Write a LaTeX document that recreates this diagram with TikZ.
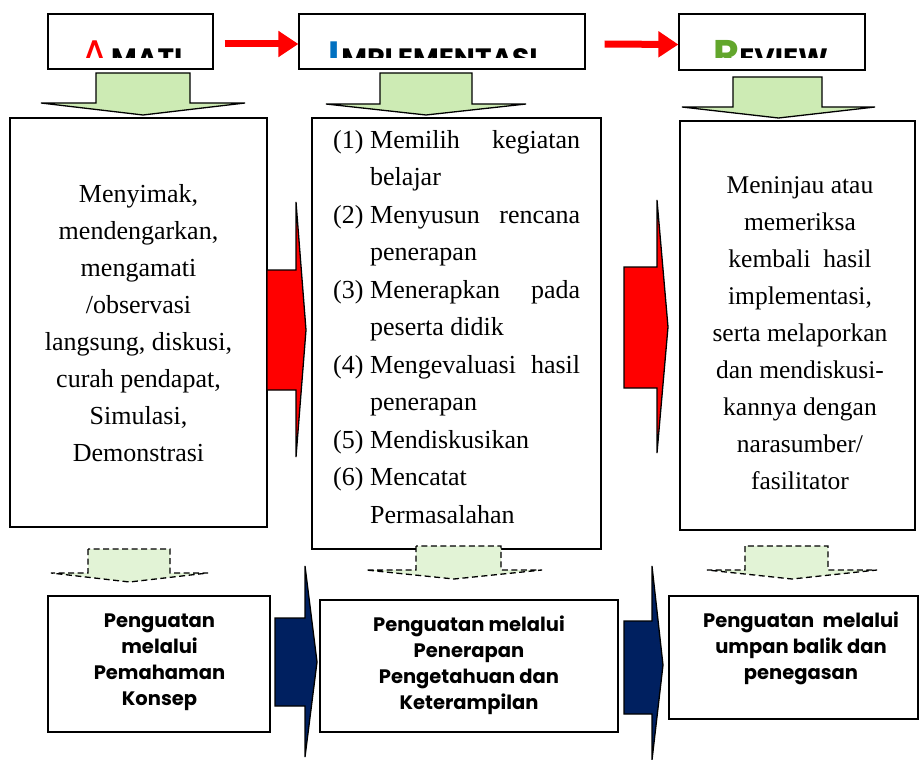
\documentclass[tikz,border=0pt]{standalone}
\usepackage{fontspec}
\setmainfont{Liberation Serif}
\newfontfamily\gothicfont{Poppins}
\usepackage{tikz}
\usetikzlibrary{arrows.meta}

\definecolor{lightgreen}{RGB}{205,235,180}
\definecolor{palegreen}{RGB}{226,243,214}
\definecolor{navyblue}{RGB}{0,32,96}
\definecolor{titleblue}{RGB}{0,112,192}
\definecolor{titlegreen}{RGB}{98,166,44}

% numbered line with hanging indent
\newcommand{\listitem}[2]{\hangindent=37pt\hangafter=1\noindent\makebox[37pt][l]{(#1)}#2\par}

\tikzset{
  titlebox/.style={draw, line width=1.2pt, inner sep=0pt},
  mainbox/.style={draw, line width=1.2pt, inner sep=0pt},
  titletext/.style={anchor=base west, inner sep=0pt, font=\gothicfont\bfseries\fontsize{28}{28}\selectfont},
  bodytext/.style={anchor=north, inner sep=0pt, align=center, font=\fontsize{26}{37}\selectfont},
  listtext/.style={anchor=north west, inner sep=0pt, text width=247pt, align=justify,
    font=\fontsize{26}{37.5}\selectfont},
  bottomtext/.style={anchor=north, inner sep=0pt, align=center, font=\gothicfont\bfseries\fontsize{19.5}{26}\selectfont},
  toparrow/.style={draw=red, line width=7pt, -{Triangle[length=20pt,width=25pt]}},
  greenarrow/.style={draw, line width=1.3pt, fill=lightgreen, line join=miter},
  dasharrow/.style={draw, line width=1.3pt, dash pattern=on 6pt off 3.5pt, fill=palegreen},
  redblock/.style={draw, line width=1.3pt, fill=red},
  navyblock/.style={draw, line width=1.3pt, fill=navyblue}
}

\begin{document}
\begin{tikzpicture}[x=1pt, y=-1pt]
\useasboundingbox (0,0) rectangle (919,760);

% title boxes
\node[titlebox, minimum width=165pt, minimum height=55pt] (amati) at (130.5,41.5) {};
\node[titlebox, minimum width=286pt, minimum height=55pt] (impl) at (442,41.5) {};
\node[titlebox, minimum width=186pt, minimum height=56pt] (review) at (772,42) {};

\begin{scope}
  \clip (48,14) rectangle (213,58);
  \node[titletext] (amatitxt) at (81,69) {\textcolor{red}{\mdseries\fontsize{40}{40}\selectfont A}\hspace{3pt}MATI};
\end{scope}
\begin{scope}
  \clip (299,14) rectangle (585,58);
  \node[titletext] (impltxt) at (328,69) {\textcolor{titleblue}{\fontsize{38}{38}\selectfont I}\hspace{2pt}MPLEMENTASI};
\end{scope}
\begin{scope}
  \clip (679,14) rectangle (865,58);
  \node[titletext] (reviewtxt) at (713,69) {\textcolor{titlegreen}{\fontsize{40}{40}\selectfont R}EVIEW};
\end{scope}

\draw[toparrow] ([xshift=11pt,yshift=-2.5pt]amati.east) -- ([yshift=-2.5pt]impl.west);
\draw[toparrow] ([xshift=19pt,yshift=-2.5pt]impl.east) -- ([yshift=-2.5pt]review.west);

% main boxes
\node[mainbox, minimum width=257pt, minimum height=409pt] (amatibox) at (138.5,322.5) {};
\node[mainbox, minimum width=289pt, minimum height=431pt] (implbox) at (456.5,333.5) {};
\node[mainbox, minimum width=235pt, minimum height=409pt] (reviewbox) at (797.5,325.5) {};

\node[bodytext] (amatibody) at (138.5,184) {Menyimak,\\mendengarkan,\\mengamati\\/observasi\\langsung, diskusi,\\curah pendapat,\\Simulasi,\\Demonstrasi};

\node[listtext] (implbody) at (333,130) {\hyphenpenalty=10000\tolerance=10000\relax
\listitem{1}{Memilih kegiatan\linebreak belajar}%
\listitem{2}{Menyusun rencana\linebreak penerapan}%
\listitem{3}{Menerapkan pada\linebreak peserta didik}%
\listitem{4}{Mengevaluasi hasil\linebreak penerapan}%
\listitem{5}{Mendiskusikan}%
\listitem{6}{Mencatat\newline Permasalahan}};

\node[bodytext, font=\fontsize{25.5}{37}\selectfont] (reviewbody) at (800,176) {Meninjau atau\\memeriksa\\kembali\ \ hasil\\implementasi,\\serta melaporkan\\dan mendiskusi-\\kannya dengan\\narasumber/\\fasilitator};

% bottom boxes
\node[mainbox, minimum width=222pt, minimum height=136pt] (amatinote) at (159,664) {};
\node[mainbox, minimum width=298pt, minimum height=132pt] (implnote) at (469,666) {};
\node[mainbox, minimum width=249pt, minimum height=123pt] (reviewnote) at (793.5,657.5) {};

\node[bottomtext] (amatinotetxt) at (159.5,614) {Penguatan\\melalui\\Pemahaman\\Konsep};
\node[bottomtext] (implnotetxt) at (469,616) {Penguatan melalui\\Penerapan\\Pengetahuan dan\\Keterampilan};
\node[bottomtext] (reviewnotetxt) at (801,612) {Penguatan\ \ melalui\\umpan balik dan\\penegasan};

% green arrows into the boxes
\foreach \l/\r/\t/\m/\wl/\wr/\tp in {96/190/73/103/41/245/115, 380/472/73/104/326/526/115, 733/822/77/107/682/875/118}
  \draw[greenarrow] (\l,\t) -- (\l,\m) -- (\wl,\m) -- ({(\wl+\wr)/2},\tp) -- (\wr,\m) -- (\r,\m) -- (\r,\t) -- cycle;

% dashed arrows below
\foreach \l/\r/\t/\m/\wl/\wr/\tp in {88/170/549/573/51/208/582, 416/501/546/570/366/542/579, 745/828/546/570/707/877/579}
  \draw[dasharrow] (\l,\t) -- (\l,\m) -- (\wl,\m) -- ({(\wl+\wr)/2},\tp) -- (\wr,\m) -- (\r,\m) -- (\r,\t) -- cycle;

% block arrows between columns
\foreach \xa/\xb/\sa/\sb/\ha/\hb/\tx/\ty in {267/296/270/390/202/457/306/330, 624/657/267/388/200/453/668/327}
  \draw[redblock] (\xa,\sa) -- (\xb,\sa) -- (\xb,\ha) -- (\tx,\ty) -- (\xb,\hb) -- (\xb,\sb) -- (\xa,\sb) -- cycle;
\foreach \xa/\xb/\sa/\sb/\ha/\hb/\tx/\ty in {275/305/618/706/566/757/317/662, 624/652/621/714/566/760/663/665}
  \draw[navyblock] (\xa,\sa) -- (\xb,\sa) -- (\xb,\ha) -- (\tx,\ty) -- (\xb,\hb) -- (\xb,\sb) -- (\xa,\sb) -- cycle;
\end{tikzpicture}
\end{document}
